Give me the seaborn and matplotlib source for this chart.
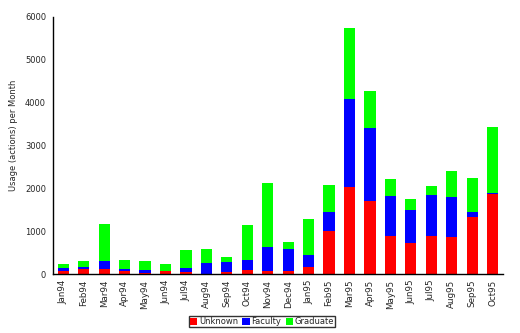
import matplotlib
matplotlib.use("Agg")
import matplotlib.pyplot as plt
import seaborn as sns
import numpy as np
import pandas as pd
from matplotlib.patches import Patch

months = ["Jan94", "Feb94", "Mar94", "Apr94", "May94", "Jun94", "Jul94", "Aug94",
          "Sep94", "Oct94", "Nov94", "Dec94", "Jan95", "Feb95", "Mar95", "Apr95",
          "May95", "Jun95", "Jul95", "Aug95", "Sep95", "Oct95"]
unknown = [78, 109, 109, 62, 31, 62, 54, 8, 54, 101, 78, 78,
           171, 996, 2039, 1696, 895, 732, 895, 872, 1339, 1875]
faculty = [54, 47, 202, 63, 70, 16, 94, 257, 234, 234, 560, 513,
           280, 459, 2054, 1720, 934, 770, 957, 933, 116, 24]
graduate = [109, 155, 864, 210, 210, 163, 420, 326, 117, 817, 1494, 164,
            841, 631, 1658, 864, 397, 257, 210, 607, 794, 1541]

series_names = ["Unknown", "Faculty", "Graduate"]
colors = ["#FF0000", "#0000FF", "#00FF00"]
yticks = [0, 1000, 2000, 3000, 4000, 5000, 6000]

sns.set_style("white")
plt.rcParams["font.family"] = ["DejaVu Sans"]

df = pd.DataFrame({"month": months, "Unknown": unknown,
                   "Faculty": faculty, "Graduate": graduate})
df["c_unknown"] = df["Unknown"]
df["c_faculty"] = df["Unknown"] + df["Faculty"]
df["c_graduate"] = df["c_faculty"] + df["Graduate"]

fig = plt.figure(figsize=(5.2, 3.33), dpi=100)
ax = fig.add_axes([0.102, 0.177, 0.865, 0.772])

for col, c in zip(["c_graduate", "c_faculty", "c_unknown"], colors[::-1]):
    sns.barplot(data=df, x="month", y=col, color=c, width=0.55,
                saturation=1, ax=ax, linewidth=0, errorbar=None)

ax.set_xlim(-0.5, len(months) - 0.5)
ax.set_ylim(0, 6000)
ax.set_yticks(yticks)
ax.set_yticklabels([str(v) for v in yticks], fontsize=6)
ax.set_xticks(range(len(months)))
ax.set_xticklabels(months, rotation=90, fontsize=6.3)
ax.tick_params(axis="x", which="major", length=0, pad=4)
ax.set_xticks(np.arange(-0.5, len(months), 1.0), minor=True)
ax.tick_params(axis="x", which="minor", length=5, direction="inout", width=1)
ax.tick_params(axis="y", which="major", length=6, direction="inout", width=1, pad=2)
ax.set_xlabel("")
ax.set_ylabel("Usage (actions) per Month", fontsize=6, labelpad=5)
ax.yaxis.set_label_coords(-0.078, 0.54)

for s in ["top", "right"]:
    ax.spines[s].set_visible(False)
for s in ["left", "bottom"]:
    ax.spines[s].set_color("black")
    ax.spines[s].set_linewidth(1)

handles = [Patch(facecolor=c, edgecolor="none", label=n) for n, c in zip(series_names, colors)]
leg = fig.legend(handles=handles, loc="center", bbox_to_anchor=(0.504, 0.0345), ncol=3,
                 fontsize=6, frameon=True, fancybox=False, handlelength=0.9,
                 handleheight=0.9, handletextpad=0.2, columnspacing=0.5,
                 borderpad=0.15, borderaxespad=0)
leg.get_frame().set_edgecolor("black")
leg.get_frame().set_linewidth(1)

fig.savefig("out.png", dpi=100)
